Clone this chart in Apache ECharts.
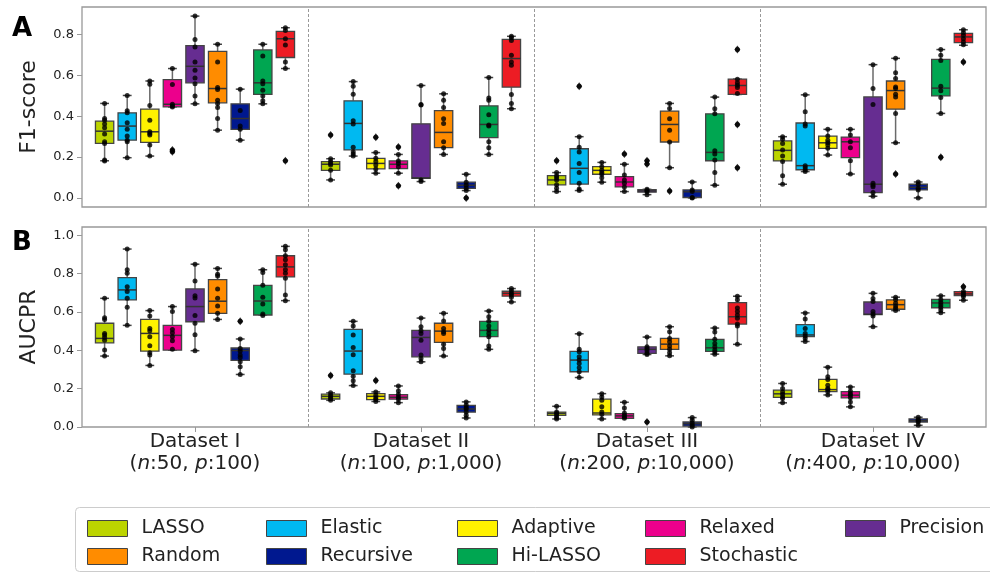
<!DOCTYPE html>
<html><head><meta charset="utf-8">
<script src="https://cdn.jsdelivr.net/npm/echarts@6/dist/echarts.min.js"></script>
<style>html,body{margin:0;padding:0;background:#fff}#c{width:990px;height:574px}</style>
</head><body><div id="c"></div>
<script>
const FONT = 'DejaVu Sans';
const methods = ['LASSO','Elastic','Adaptive','Relaxed','Precision','Random','Recursive','Hi-LASSO','Stochastic'];
const colors = ['#bcd400','#00b9f1','#fff200','#ec008c','#662d91','#ff8c00','#00188f','#00a651','#ed1c24'];
const datasetNames = ['Dataset I','Dataset II','Dataset III','Dataset IV'];
const sampleSizes = ['50','100','200','400'];
const featureCounts = ['100','1,000','10,000','10,000'];
const yTicksF1 = [0,0.2,0.4,0.6,0.8];
const yTicksAUCPR = [0,0.2,0.4,0.6,0.8,1.0];
const legendColumns = [['LASSO','Random'],['Elastic','Recursive'],['Adaptive','Hi-LASSO'],['Relaxed','Stochastic'],['Precision']];

// box stats: [lower whisker, Q1, median, Q3, upper whisker]; rows = methods, cols = datasets
const f1Box = [
 [[0.182,0.267,0.327,0.376,0.463],[0.088,0.135,0.165,0.178,0.192],[0.031,0.064,0.088,0.109,0.124],[0.067,0.181,0.233,0.279,0.300]],
 [[0.197,0.283,0.352,0.417,0.502],[0.205,0.235,0.365,0.476,0.570],[0.036,0.068,0.145,0.241,0.300],[0.129,0.138,0.158,0.367,0.505]],
 [[0.205,0.272,0.324,0.435,0.573],[0.121,0.142,0.169,0.194,0.222],[0.077,0.116,0.135,0.153,0.174],[0.210,0.243,0.270,0.303,0.336]],
 [[0.446,0.446,0.459,0.580,0.634],[0.121,0.143,0.165,0.181,0.213],[0.031,0.054,0.078,0.104,0.165],[0.117,0.197,0.275,0.298,0.336]],
 [[0.461,0.564,0.645,0.746,0.891],[0.080,0.096,0.098,0.363,0.551],[0.016,0.028,0.034,0.040,0.042],[0.008,0.026,0.067,0.495,0.653]],
 [[0.332,0.466,0.536,0.718,0.753],[0.213,0.246,0.321,0.428,0.510],[0.148,0.274,0.360,0.425,0.463],[0.270,0.435,0.526,0.573,0.684]],
 [[0.283,0.336,0.389,0.461,0.533],[0.036,0.047,0.062,0.077,0.116],[0.000,0.002,0.030,0.039,0.078],[0.000,0.039,0.052,0.067,0.078]],
 [[0.461,0.507,0.564,0.725,0.753],[0.213,0.295,0.360,0.451,0.590],[0.062,0.182,0.223,0.412,0.494],[0.414,0.500,0.538,0.679,0.727]],
 [[0.634,0.688,0.780,0.816,0.834],[0.437,0.543,0.683,0.777,0.792],[0.507,0.507,0.551,0.582,0.582],[0.748,0.761,0.789,0.806,0.824]]
];
const f1Points = [
 [[0.463,0.389,0.381,0.362,0.344,0.313,0.275,0.267,0.186,0.181],[0.308,0.192,0.178,0.169,0.161,0.135,0.088],[0.182,0.124,0.109,0.099,0.088,0.064,0.047,0.031],[0.300,0.287,0.267,0.235,0.205,0.178,0.108,0.067]],
 [[0.502,0.427,0.417,0.368,0.336,0.303,0.283,0.275,0.197],[0.570,0.547,0.508,0.378,0.362,0.248,0.226,0.215,0.205],[0.547,0.300,0.248,0.225,0.169,0.124,0.072,0.044,0.036],[0.505,0.422,0.362,0.352,0.158,0.148,0.137,0.129]],
 [[0.573,0.557,0.453,0.381,0.324,0.316,0.308,0.259,0.205],[0.297,0.222,0.194,0.178,0.161,0.142,0.121],[0.174,0.153,0.135,0.125,0.116,0.099,0.077],[0.336,0.303,0.283,0.270,0.259,0.243,0.210]],
 [[0.634,0.556,0.459,0.450,0.446,0.235,0.226],[0.249,0.213,0.181,0.169,0.153,0.121,0.060],[0.215,0.165,0.112,0.088,0.072,0.054,0.031],[0.336,0.308,0.275,0.246,0.182,0.117]],
 [[0.891,0.776,0.740,0.666,0.626,0.588,0.560,0.499,0.461],[0.551,0.458,0.455,0.088,0.080],[0.182,0.166,0.042,0.036,0.031,0.016],[0.653,0.536,0.458,0.072,0.062,0.055,0.026,0.008]],
 [[0.753,0.666,0.541,0.531,0.479,0.463,0.443,0.389,0.332],[0.510,0.479,0.443,0.388,0.365,0.275,0.246,0.213],[0.463,0.438,0.388,0.332,0.274,0.148,0.034],[0.684,0.613,0.585,0.544,0.536,0.508,0.495,0.414,0.270,0.117]],
 [[0.533,0.428,0.352,0.336,0.283],[0.116,0.077,0.062,0.047,0.036,0.000],[0.078,0.039,0.031,0.002,0.000],[0.078,0.067,0.047,0.039,0.000]],
 [[0.753,0.696,0.573,0.560,0.528,0.499,0.476,0.461],[0.590,0.490,0.479,0.407,0.357,0.352,0.275,0.246,0.213],[0.494,0.437,0.412,0.231,0.215,0.186,0.124,0.062],[0.727,0.699,0.674,0.547,0.525,0.492,0.414,0.199]],
 [[0.834,0.821,0.780,0.749,0.666,0.634,0.182],[0.792,0.785,0.772,0.699,0.666,0.650,0.507,0.463,0.437],[0.727,0.582,0.564,0.552,0.541,0.512,0.360,0.148],[0.824,0.810,0.797,0.780,0.764,0.751,0.666]]
];
const aucprBox = [
 [[0.370,0.439,0.462,0.541,0.671],[0.139,0.146,0.160,0.171,0.178],[0.042,0.061,0.071,0.078,0.108],[0.126,0.155,0.173,0.192,0.227]],
 [[0.530,0.663,0.715,0.779,0.928],[0.216,0.276,0.396,0.509,0.551],[0.258,0.288,0.349,0.394,0.486],[0.446,0.471,0.480,0.534,0.595]],
 [[0.321,0.396,0.488,0.561,0.607],[0.133,0.143,0.160,0.174,0.183],[0.042,0.063,0.073,0.145,0.174],[0.167,0.185,0.195,0.248,0.312]],
 [[0.401,0.401,0.478,0.530,0.628],[0.127,0.145,0.155,0.169,0.214],[0.045,0.045,0.058,0.070,0.129],[0.105,0.152,0.166,0.185,0.209]],
 [[0.398,0.549,0.628,0.720,0.849],[0.340,0.366,0.467,0.504,0.568],[0.378,0.384,0.405,0.418,0.469],[0.523,0.586,0.588,0.652,0.697]],
 [[0.561,0.593,0.656,0.769,0.827],[0.370,0.441,0.500,0.541,0.593],[0.371,0.405,0.432,0.462,0.523],[0.607,0.614,0.638,0.663,0.677]],
 [[0.274,0.347,0.399,0.412,0.459],[0.047,0.078,0.094,0.113,0.131],[0.000,0.005,0.017,0.026,0.049],[0.009,0.026,0.033,0.042,0.051]],
 [[0.584,0.584,0.657,0.739,0.820],[0.405,0.471,0.504,0.551,0.605],[0.380,0.394,0.413,0.457,0.516],[0.596,0.622,0.647,0.666,0.684]],
 [[0.659,0.783,0.835,0.893,0.942],[0.652,0.682,0.697,0.708,0.722],[0.431,0.537,0.575,0.649,0.682],[0.661,0.685,0.694,0.706,0.706]]
];
const aucprPoints = [
 [[0.671,0.570,0.561,0.488,0.480,0.467,0.453,0.401,0.370],[0.269,0.178,0.166,0.157,0.148,0.139],[0.108,0.078,0.070,0.061,0.049,0.042],[0.227,0.201,0.183,0.171,0.157,0.148,0.126]],
 [[0.928,0.820,0.802,0.732,0.706,0.671,0.624,0.530],[0.551,0.527,0.480,0.415,0.377,0.293,0.265,0.241,0.216],[0.486,0.405,0.392,0.366,0.349,0.331,0.309,0.288,0.258],[0.595,0.563,0.514,0.488,0.474,0.462,0.446]],
 [[0.607,0.579,0.514,0.502,0.471,0.424,0.387,0.375,0.321],[0.242,0.183,0.166,0.153,0.143,0.133],[0.174,0.157,0.139,0.105,0.078,0.066,0.042],[0.312,0.262,0.248,0.218,0.201,0.195,0.185,0.167]],
 [[0.628,0.602,0.509,0.492,0.471,0.450,0.405],[0.214,0.188,0.169,0.155,0.145,0.127],[0.129,0.099,0.073,0.061,0.052,0.045],[0.209,0.188,0.174,0.166,0.152,0.131,0.105]],
 [[0.849,0.762,0.684,0.673,0.581,0.541,0.481,0.398],[0.568,0.523,0.502,0.488,0.453,0.375,0.357,0.340],[0.469,0.418,0.410,0.398,0.384,0.378,0.026],[0.697,0.670,0.654,0.602,0.589,0.579,0.523]],
 [[0.827,0.797,0.788,0.720,0.671,0.631,0.593,0.561],[0.593,0.553,0.514,0.497,0.488,0.431,0.410,0.370],[0.523,0.497,0.462,0.445,0.422,0.405,0.387,0.371],[0.677,0.663,0.645,0.631,0.619,0.607]],
 [[0.551,0.459,0.410,0.396,0.375,0.363,0.340,0.314,0.274],[0.131,0.113,0.101,0.094,0.078,0.061,0.047],[0.049,0.035,0.021,0.009,0.000],[0.051,0.038,0.033,0.026,0.009]],
 [[0.820,0.806,0.739,0.677,0.642,0.589,0.582],[0.605,0.575,0.551,0.527,0.506,0.488,0.471,0.422,0.405],[0.516,0.495,0.457,0.436,0.418,0.401,0.391,0.380],[0.684,0.663,0.649,0.636,0.624,0.610,0.596]],
 [[0.942,0.924,0.893,0.872,0.846,0.820,0.802,0.776,0.689,0.659],[0.722,0.711,0.697,0.689,0.677,0.652],[0.682,0.663,0.621,0.602,0.584,0.567,0.537,0.527,0.431],[0.732,0.706,0.697,0.689,0.680,0.661]]
];

const BOX_W = 0.081, CAP_W = 0.039;
const EDGE = '#444', WHISK = '#6a6a6a';
function boxX(d, m) { return d + (m + 1) / 10; }

function renderBox(params, api) {
  const x = api.value(0);
  const p = i => api.coord([x, api.value(i)]);
  const lo = p(1), q1 = p(2), md = p(3), q3 = p(4), hi = p(5);
  const bw = api.size([BOX_W, 0])[0];
  const cw = api.size([CAP_W, 0])[0];
  const cx = lo[0];
  const color = api.visual('color');
  return {
    type: 'group',
    children: [
      {type:'line', shape:{x1:cx,y1:q1[1],x2:cx,y2:lo[1]}, style:{stroke:WHISK,lineWidth:1.5}},
      {type:'line', shape:{x1:cx,y1:q3[1],x2:cx,y2:hi[1]}, style:{stroke:WHISK,lineWidth:1.5}},
      {type:'line', shape:{x1:cx-cw/2,y1:lo[1],x2:cx+cw/2,y2:lo[1]}, style:{stroke:EDGE,lineWidth:1.5}},
      {type:'line', shape:{x1:cx-cw/2,y1:hi[1],x2:cx+cw/2,y2:hi[1]}, style:{stroke:EDGE,lineWidth:1.5}},
      {type:'rect', shape:{x:cx-bw/2,y:q3[1],width:bw,height:q1[1]-q3[1]}, style:{fill:color,stroke:EDGE,lineWidth:1.3}},
      {type:'line', shape:{x1:cx-bw/2,y1:md[1],x2:cx+bw/2,y2:md[1]}, style:{stroke:'#333',lineWidth:1.5}}
    ]
  };
}

const panels = [{box:f1Box, pts:f1Points}, {box:aucprBox, pts:aucprPoints}];
const series = [];
panels.forEach((pn, gi) => {
  methods.forEach((m, mi) => {
    series.push({
      type:'custom', name:m, xAxisIndex:gi, yAxisIndex:gi, renderItem:renderBox,
      itemStyle:{color:colors[mi]}, encode:{x:0, y:[1,2,3,4,5]},
      data: pn.box[mi].map((s, di) => [boxX(di, mi)].concat(s)), z:2, silent:true
    });
  });
  const dots = [], fliers = [];
  methods.forEach((m, mi) => pn.pts[mi].forEach((arr, di) => {
    const s = pn.box[mi][di];
    arr.forEach(v => {
      dots.push([boxX(di, mi), v]);
      if (v < s[0] - 0.003 || v > s[4] + 0.003) fliers.push([boxX(di, mi), v]);
    });
  }));
  series.push({
    type:'scatter', xAxisIndex:gi, yAxisIndex:gi, data:dots, symbolSize:5,
    itemStyle:{color:'#000'}, z:5, silent:true,
    markLine:{silent:true, symbol:['none','none'], label:{show:false},
      lineStyle:{type:[3,2], color:'#999', width:1},
      data:[{xAxis:1},{xAxis:2},{xAxis:3}]}
  });
  series.push({
    type:'scatter', xAxisIndex:gi, yAxisIndex:gi, data:fliers, symbol:'diamond', symbolSize:[6,8],
    itemStyle:{color:'#000'}, z:6, silent:true
  });
});

const yCommon = (ticks, name) => ({
  type:'value', name:name, nameLocation:'middle', nameGap:42,
  nameTextStyle:{fontSize:22, fontFamily:FONT, color:'#222'},
  axisLine:{show:false},
  axisTick:{show:true, length:5, lineStyle:{color:'#999'}, customValues:ticks},
  axisLabel:{customValues:ticks, formatter:v => v.toFixed(1), fontSize:13, fontFamily:FONT, color:'#222', margin:8},
  splitLine:{show:false}
});

const xTickPos = [0.5,1.5,2.5,3.5];
const option = {
  animation:false,
  backgroundColor:'#fff',
  grid:[
    {left:82, right:4, top:7, height:200, show:true, borderColor:'#999', borderWidth:1.3, backgroundColor:'transparent'},
    {left:82, right:4, top:227, height:200, show:true, borderColor:'#999', borderWidth:1.3, backgroundColor:'transparent'}
  ],
  xAxis:[
    {gridIndex:0, type:'value', min:0, max:4, axisLine:{show:false}, axisTick:{show:false}, axisLabel:{show:false}, splitLine:{show:false}},
    {gridIndex:1, type:'value', min:0, max:4, axisLine:{show:false},
      axisTick:{show:true, length:5, customValues:xTickPos, lineStyle:{color:'#999'}},
      axisLabel:{customValues:xTickPos, margin:4,
        formatter:v => { const i = Math.floor(v); return '{t|' + datasetNames[i] + '}\n{t|(}{i|n}{t|:' + sampleSizes[i] + ', }{i|p}{t|:' + featureCounts[i] + ')}'; },
        rich:{t:{fontSize:20, fontFamily:FONT, color:'#222', lineHeight:22}, i:{fontSize:20, fontFamily:FONT, fontStyle:'italic', color:'#222', lineHeight:22}}},
      splitLine:{show:false}}
  ],
  yAxis:[
    Object.assign({gridIndex:0, min:-0.0446, max:0.9356}, yCommon(yTicksF1, 'F1-score')),
    Object.assign({gridIndex:1, min:0, max:1.043}, yCommon(yTicksAUCPR, 'AUCPR'))
  ],
  legend: legendColumns.map((names, c) => ({
    orient:'vertical', left:[82,261,452,640,840][c], top:514, itemWidth:40, itemHeight:16, itemGap:9,
    icon:'rect', data:names, selectedMode:false,
    textStyle:{fontSize:19, fontFamily:FONT, color:'#222', padding:[0,0,0,9]},
    itemStyle:{borderColor:'#444', borderWidth:1}
  })),
  graphic:[
    {type:'rect', left:75, top:507, z:-10, shape:{width:930, height:64, r:4}, style:{fill:'#fff', stroke:'#ccc', lineWidth:1}},
    {type:'text', left:12, top:16, style:{text:'A', fontSize:26, fontWeight:'bold', fontFamily:FONT, fill:'#000'}},
    {type:'text', left:12, top:230, style:{text:'B', fontSize:26, fontWeight:'bold', fontFamily:FONT, fill:'#000'}}
  ],
  series: series
};
const chart = echarts.init(document.getElementById('c'), null, {renderer:'canvas'});
chart.setOption(option);
</script></body></html>
